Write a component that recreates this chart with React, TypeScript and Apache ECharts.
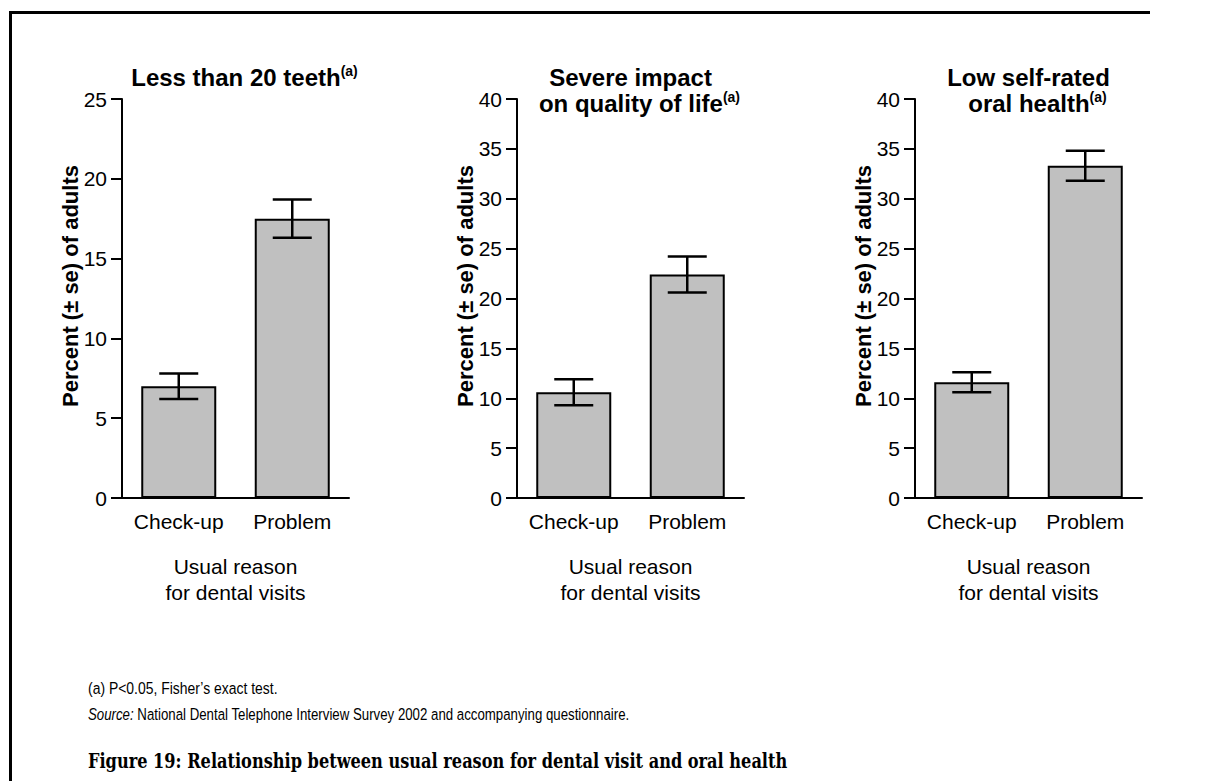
import React, { useEffect, useRef } from 'react';
import * as echarts from 'echarts';

// ---- data ----
const categories = ['Check-up', 'Problem'];
const teethPercent = [7.0, 17.5];
const teethSe = [0.8, 1.2];
const impactPercent = [10.6, 22.4];
const impactSe = [1.3, 1.8];
const selfRatedPercent = [11.6, 33.3];
const selfRatedSe = [1.0, 1.5];
const yAxisMax = [25, 40, 40];
const yAxisStep = 5;
const panelTitles = [['Less than 20 teeth'], ['Severe impact', 'on quality of life'], ['Low self-rated', 'oral health']];
const titleNote = '(a)';
const yAxisTitle = 'Percent (± se) of adults';
const xAxisTitle = ['Usual reason', 'for dental visits'];
const footnote = '(a) P<0.05, Fisher’s exact test.';
const sourceLabel = 'Source:';
const sourceText = ' National Dental Telephone Interview Survey 2002 and accompanying questionnaire.';
const caption = 'Figure 19: Relationship between usual reason for dental visit and oral health';

const panels = [
  { values: teethPercent, se: teethSe },
  { values: impactPercent, se: impactSe },
  { values: selfRatedPercent, se: selfRatedSe },
];

// ---- layout ----
const SANS = '"Liberation Sans", Arial, Helvetica, sans-serif';
const SERIF = '"DejaVu Serif", Georgia, serif';
const GRID_LEFT = [122, 517, 915];
const GRID_WIDTH = 227;
const GRID_TOP = 99;
const GRID_HEIGHT = 399;

function buildOption() {
  const grid = GRID_LEFT.map((left) => ({ left, top: GRID_TOP, width: GRID_WIDTH, height: GRID_HEIGHT }));

  const xAxis = GRID_LEFT.map((_, i) => ({
    type: 'category',
    gridIndex: i,
    data: categories,
    axisLine: { lineStyle: { color: '#000', width: 2 } },
    axisTick: { show: false },
    axisLabel: { color: '#000', fontSize: 21, fontFamily: SANS, margin: 13, interval: 0 },
  }));

  const yAxis = GRID_LEFT.map((_, i) => ({
    type: 'value',
    gridIndex: i,
    min: 0,
    max: yAxisMax[i],
    interval: yAxisStep,
    splitLine: { show: false },
    axisLine: { show: true, lineStyle: { color: '#000', width: 2 } },
    axisTick: { show: true, length: 11, lineStyle: { color: '#000', width: 2 } },
    axisLabel: { color: '#000', fontSize: 21, fontFamily: SANS, margin: 15 },
  }));

  const series: any[] = [];
  panels.forEach((p, i) => {
    series.push({
      type: 'bar',
      xAxisIndex: i,
      yAxisIndex: i,
      data: p.values,
      barWidth: 75,
      itemStyle: { color: '#c0c0c0', borderColor: '#000', borderWidth: 2 },
      z: 2,
    });
    series.push({
      type: 'custom',
      xAxisIndex: i,
      yAxisIndex: i,
      data: p.values.map((v, k) => [k, v, p.se[k]]),
      encode: { x: 0, y: 1 },
      z: 5,
      renderItem: (_params: any, api: any) => {
        const idx = api.value(0);
        const v = api.value(1);
        const e = api.value(2);
        const top = api.coord([idx, v + e]);
        const bot = api.coord([idx, v - e]);
        const half = 19.5;
        const style = { stroke: '#000', lineWidth: 2.5 };
        return {
          type: 'group',
          children: [
            { type: 'line', shape: { x1: top[0], y1: top[1], x2: bot[0], y2: bot[1] }, style },
            { type: 'line', shape: { x1: top[0] - half, y1: top[1], x2: top[0] + half, y2: top[1] }, style },
            { type: 'line', shape: { x1: bot[0] - half, y1: bot[1], x2: bot[0] + half, y2: bot[1] }, style },
          ],
        };
      },
    });
  });

  const graphic: any[] = [];

  // frame: top and left edges of the figure box
  graphic.push({
    type: 'line',
    shape: { x1: 10.5, y1: 11, x2: 10.5, y2: 781 },
    style: { stroke: '#000', lineWidth: 3 },
    silent: true,
  });
  graphic.push({
    type: 'line',
    shape: { x1: 9, y1: 12.5, x2: 1150, y2: 12.5 },
    style: { stroke: '#000', lineWidth: 3 },
    silent: true,
  });

  // panel titles (bold, superscript note on the last line)
  panelTitles.forEach((lines, i) => {
    const cx = GRID_LEFT[i] + GRID_WIDTH / 2;
    lines.forEach((line, li) => {
      const last = li === lines.length - 1;
      graphic.push({
        type: 'text',
        x: cx + (last ? 9 : 0),
        y: 77 + li * 26,
        style: {
          text: last ? `{m|${line}}{s|${titleNote}}` : `{m|${line}}`,
          align: 'center',
          verticalAlign: 'middle',
          rich: {
            m: { fontSize: 24, fontWeight: 'bold', fontFamily: SANS, lineHeight: 26, fill: '#000' },
            s: { fontSize: 14, fontWeight: 'bold', fontFamily: SANS, lineHeight: 18, verticalAlign: 'top', fill: '#000' },
          },
        },
      });
    });

    // rotated y-axis title
    graphic.push({
      type: 'text',
      x: GRID_LEFT[i] - 52,
      y: 286,
      rotation: Math.PI / 2,
      style: {
        text: yAxisTitle,
        fontSize: 22,
        fontWeight: 'bold',
        fontFamily: SANS,
        fill: '#000',
        align: 'center',
        verticalAlign: 'middle',
      },
    });

    // x-axis title (two lines)
    xAxisTitle.forEach((t, ti) => {
      graphic.push({
        type: 'text',
        x: cx,
        y: 566 + ti * 26,
        style: {
          text: t,
          fontSize: 21,
          fontFamily: SANS,
          fill: '#000',
          align: 'center',
          verticalAlign: 'middle',
        },
      });
    });
  });

  // notes
  graphic.push({
    type: 'text',
    x: 88,
    y: 688,
    scaleX: 0.82,
    style: { text: footnote, fontSize: 17, fontFamily: SANS, fill: '#000', verticalAlign: 'middle' },
  });
  graphic.push({
    type: 'text',
    x: 88,
    y: 714,
    scaleX: 0.78,
    style: {
      text: `{i|${sourceLabel}}{n|${sourceText}}`,
      verticalAlign: 'middle',
      rich: {
        i: { fontSize: 17, fontStyle: 'italic', fontFamily: SANS, fill: '#000' },
        n: { fontSize: 17, fontFamily: SANS, fill: '#000' },
      },
    },
  });
  graphic.push({
    type: 'text',
    x: 88,
    y: 760,
    scaleX: 0.77,
    style: { text: caption, fontSize: 21, fontWeight: 'bold', fontFamily: SERIF, fill: '#000', verticalAlign: 'middle' },
  });

  return {
    animation: false,
    backgroundColor: '#fff',
    grid,
    xAxis,
    yAxis,
    series,
    graphic,
  };
}

export default function App() {
  const ref = useRef<HTMLDivElement>(null);
  useEffect(() => {
    if (!ref.current) return;
    const chart = echarts.init(ref.current, null, { renderer: 'svg' });
    chart.setOption(buildOption() as any);
    return () => chart.dispose();
  }, []);
  return (
    <div
      ref={ref}
      style={{ position: 'fixed', left: 0, top: 0, width: 1215, height: 781, background: '#fff' }}
    />
  );
}
